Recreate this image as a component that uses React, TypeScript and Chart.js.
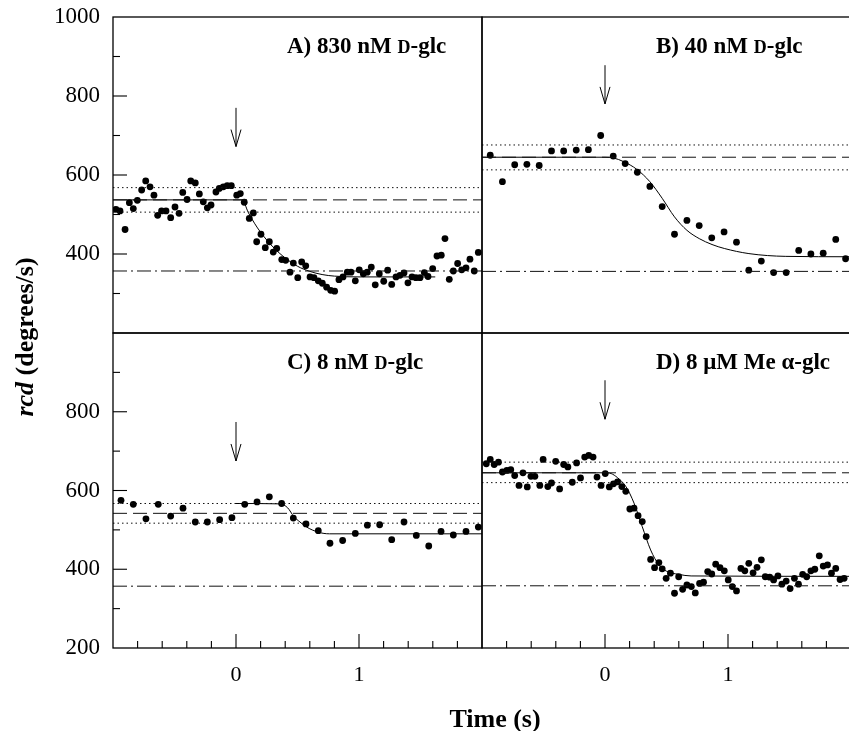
import React, { useEffect, useRef } from 'react';
import { Chart, registerables } from 'chart.js';

Chart.register(...registerables);

const FONT = "'Liberation Serif', 'Times New Roman', serif";
const M = 40; // canvas overhang on every side
const W = 849;
const H = 731;
const CW = W + 2 * M;
const CH = H + 2 * M;
const Y_AXIS_W = 100;
const X_AXIS_H = 60;

// ---------- Panel A: 830 nM D-glc ----------
const tA = [-0.976,-0.943,-0.902,-0.867,-0.835,-0.802,-0.767,-0.734,-0.699,-0.667,-0.637,-0.605,-0.569,-0.531,-0.496,-0.463,-0.433,-0.398,-0.368,-0.331,-0.298,-0.266,-0.233,-0.203,-0.163,-0.136,-0.103,-0.071,-0.038,0.006,0.035,0.067,0.108,0.141,0.168,0.203,0.238,0.271,0.303,0.331,0.372,0.404,0.439,0.466,0.502,0.534,0.567,0.602,0.634,0.669,0.702,0.737,0.770,0.802,0.837,0.870,0.905,0.935,0.970,1.002,1.035,1.067,1.100,1.132,1.165,1.201,1.233,1.266,1.301,1.333,1.366,1.398,1.431,1.463,1.496,1.531,1.561,1.599,1.634,1.669,1.699,1.734,1.767,1.802,1.835,1.870,1.902,1.937,1.970];
const vA = [513,509,462,530,515,536,562,585,570,549,498,509,509,492,519,503,556,538,585,580,552,532,517,524,557,566,570,573,573,549,553,531,490,504,431,450,416,431,405,414,386,384,354,377,340,380,370,342,340,332,326,316,308,306,335,342,354,354,332,360,350,354,367,322,350,331,359,323,342,346,352,327,342,340,340,353,343,363,395,397,439,336,357,376,360,365,387,357,404];
const fitAt = [-1, 0.05, 0.1, 0.15, 0.2, 0.3, 0.4, 0.5, 0.6, 0.7, 0.8, 1.0, 1.62];
const fitAv = [537, 537, 505, 478, 455, 418, 390, 369, 356, 348, 344, 342, 342];
const refA = [568, 537, 506, 357]; // upper dotted, dashed, lower dotted, dash-dot
const arrowA = [770, 672];

// ---------- Panel B: 40 nM D-glc ----------
const tB = [-0.933,-0.834,-0.734,-0.635,-0.535,-0.435,-0.336,-0.234,-0.135,-0.035,0.067,0.164,0.263,0.365,0.465,0.565,0.666,0.766,0.868,0.968,1.069,1.169,1.271,1.371,1.473,1.575,1.674,1.774,1.876,1.956];
const vB = [650,583,626,627,624,661,661,663,664,700,648,629,607,571,520,450,485,472,441,456,430,359,382,353,353,409,400,402,437,388];
const fitBt = [-1, 0, 0.07, 0.15, 0.26, 0.365, 0.465, 0.565, 0.666, 0.766, 0.87, 0.97, 1.17, 1.47, 2];
const fitBv = [645, 645, 643, 634, 614, 583, 541, 494, 460, 439, 424, 414, 401, 394, 393];
const refB = [676, 645, 613, 356];
const arrowB = [878, 780];

// ---------- Panel C: 8 nM D-glc ----------
const tC = [-0.935,-0.835,-0.732,-0.632,-0.531,-0.431,-0.331,-0.233,-0.133,-0.033,0.071,0.171,0.271,0.371,0.466,0.569,0.669,0.764,0.867,0.970,1.068,1.168,1.266,1.366,1.466,1.567,1.667,1.767,1.870,1.970];
const vC = [575,565,528,565,535,555,520,520,526,531,565,571,584,567,530,515,498,466,473,491,512,513,475,520,486,459,496,487,496,507];
const fitCt = [0, 0.36, 0.42, 0.47, 0.52, 0.57, 0.67, 0.76, 2];
const fitCv = [567, 566, 556, 534, 520, 508, 494, 490, 490];
const refC = [567, 542, 517, 357];
const arrowC = [774, 675];

// ---------- Panel D: 8 µM Me α-glc ----------
const tD = [-0.965,-0.933,-0.901,-0.866,-0.834,-0.798,-0.766,-0.734,-0.699,-0.667,-0.632,-0.602,-0.570,-0.530,-0.503,-0.465,-0.435,-0.401,-0.369,-0.336,-0.302,-0.266,-0.231,-0.199,-0.165,-0.132,-0.097,-0.065,-0.032,0.002,0.035,0.069,0.102,0.137,0.169,0.202,0.236,0.269,0.303,0.335,0.371,0.403,0.438,0.465,0.497,0.532,0.565,0.599,0.631,0.666,0.702,0.734,0.769,0.801,0.835,0.868,0.900,0.935,0.970,1.002,1.035,1.069,1.105,1.137,1.169,1.204,1.236,1.271,1.303,1.339,1.371,1.406,1.438,1.473,1.505,1.540,1.573,1.607,1.640,1.674,1.706,1.742,1.774,1.809,1.841,1.876,1.911,1.944];
const vD = [668,679,666,672,647,651,653,638,613,645,609,636,636,613,679,610,619,674,604,666,660,621,670,632,685,689,685,634,613,643,609,617,622,610,598,553,555,536,521,483,425,404,417,401,377,390,339,381,349,360,356,340,364,367,394,388,413,404,396,373,356,345,402,396,415,391,405,424,381,380,373,383,362,370,351,377,362,387,381,396,400,434,408,411,390,402,374,377];
const fitDt = [-1, 0, 0.05, 0.1, 0.17, 0.236, 0.303, 0.371, 0.438, 0.5, 0.6, 0.7, 2];
const fitDv = [645, 645, 643, 633, 610, 568, 508, 449, 411, 395, 387, 383, 382];
const refD = [672, 645, 620, 358];
const arrowD = [880, 781];

// ---------- axes ----------
const xRange = [-1, 2];
const yRange = [200, 1000];
const xLabelsShown = [0, 1];
const yLabelsTop = [400, 600, 800, 1000];
const yLabelsBottom = [200, 400, 600, 800];

const titleA = [{ s: 'A) 830 nM ', sc: false }, { s: 'D', sc: true }, { s: '-glc', sc: false }];
const titleB = [{ s: 'B) 40 nM ', sc: false }, { s: 'D', sc: true }, { s: '-glc', sc: false }];
const titleC = [{ s: 'C) 8 nM ', sc: false }, { s: 'D', sc: true }, { s: '-glc', sc: false }];
const titleD = [{ s: 'D) 8 \u03BCM Me \u03B1-glc', sc: false }];

type Panel = {
  id: string;
  t: number[]; v: number[]; ft: number[]; fv: number[];
  ref: number[]; arrow: number[];
  title: { s: string; sc: boolean }[];
  box: { left: number; top: number; right: number; bottom: number };
  yLabels: number[]; xLabels: number[];
  leftTicks: boolean; bottomTicks: boolean; axisTitles: boolean;
};

const panels: Panel[] = [
  { id: 'A', t: tA, v: vA, ft: fitAt, fv: fitAv, ref: refA, arrow: arrowA, title: titleA,
    box: { left: 113, top: 17, right: 482, bottom: 333 }, yLabels: yLabelsTop, xLabels: [],
    leftTicks: true, bottomTicks: false, axisTitles: true },
  { id: 'B', t: tB, v: vB, ft: fitBt, fv: fitBv, ref: refB, arrow: arrowB, title: titleB,
    box: { left: 482, top: 17, right: 851, bottom: 333 }, yLabels: [], xLabels: [],
    leftTicks: false, bottomTicks: false, axisTitles: false },
  { id: 'C', t: tC, v: vC, ft: fitCt, fv: fitCv, ref: refC, arrow: arrowC, title: titleC,
    box: { left: 113, top: 333, right: 482, bottom: 648 }, yLabels: yLabelsBottom, xLabels: xLabelsShown,
    leftTicks: true, bottomTicks: true, axisTitles: false },
  { id: 'D', t: tD, v: vD, ft: fitDt, fv: fitDv, ref: refD, arrow: arrowD, title: titleD,
    box: { left: 482, top: 333, right: 851, bottom: 648 }, yLabels: [], xLabels: xLabelsShown,
    leftTicks: false, bottomTicks: true, axisTitles: false },
];

const near = (a: number, b: number) => Math.abs(a - b) < 1e-6;

function makeDeco(p: Panel) {
  return {
    id: 'deco' + p.id,
    afterDatasetsDraw(chart: any) {
      const { ctx, chartArea: ca } = chart;
      const xs = chart.scales.x;
      const ys = chart.scales.y;
      ctx.save();
      ctx.strokeStyle = '#000';
      ctx.fillStyle = '#000';
      // frame
      ctx.lineWidth = 1.3;
      ctx.strokeRect(ca.left, ca.top, ca.right - ca.left, ca.bottom - ca.top);
      // inward ticks
      ctx.lineWidth = 1.1;
      if (p.leftTicks) {
        ys.ticks.forEach((tk: any) => {
          if (tk.value <= ys.min || tk.value >= ys.max) return;
          const py = ys.getPixelForValue(tk.value);
          const len = Math.round(tk.value) % 200 === 0 ? 14 : 7;
          ctx.beginPath();
          ctx.moveTo(ca.left, py);
          ctx.lineTo(ca.left + len, py);
          ctx.stroke();
        });
      }
      if (p.bottomTicks) {
        xs.ticks.forEach((tk: any) => {
          if (tk.value <= xs.min + 1e-6 || tk.value >= xs.max - 1e-6) return;
          const px = xs.getPixelForValue(tk.value);
          const len = near(tk.value, Math.round(tk.value)) ? 14 : 7;
          ctx.beginPath();
          ctx.moveTo(px, ca.bottom);
          ctx.lineTo(px, ca.bottom - len);
          ctx.stroke();
        });
      }
      // arrow at t = 0
      ctx.lineWidth = 1;
      const ax = xs.getPixelForValue(0);
      const y1 = ys.getPixelForValue(p.arrow[0]);
      const y2 = ys.getPixelForValue(p.arrow[1]);
      ctx.beginPath();
      ctx.moveTo(ax, y1);
      ctx.lineTo(ax, y2);
      ctx.moveTo(ax - 5, y2 - 17);
      ctx.lineTo(ax, y2);
      ctx.lineTo(ax + 5, y2 - 17);
      ctx.stroke();
      // panel title
      ctx.textBaseline = 'alphabetic';
      ctx.textAlign = 'left';
      let tx = ca.left + 174;
      const ty = ca.top + 36;
      p.title.forEach((part) => {
        ctx.font = `bold ${part.sc ? 18 : 23}px ${FONT}`;
        ctx.fillText(part.s, tx, ty);
        tx += ctx.measureText(part.s).width;
      });
      // shared axis titles
      if (p.axisTitles) {
        ctx.save();
        ctx.translate(33 + M, 337 + M);
        ctx.rotate(-Math.PI / 2);
        const f1 = `italic bold 26px ${FONT}`;
        const f2 = `bold 26px ${FONT}`;
        const s1 = 'rcd';
        const s2 = ' (degrees/s)';
        ctx.font = f1;
        const w1 = ctx.measureText(s1).width;
        ctx.font = f2;
        const w2 = ctx.measureText(s2).width;
        let sx = -(w1 + w2) / 2;
        ctx.font = f1;
        ctx.fillText(s1, sx, 0);
        sx += w1;
        ctx.font = f2;
        ctx.fillText(s2, sx, 0);
        ctx.restore();
        ctx.font = `bold 26px ${FONT}`;
        ctx.textAlign = 'center';
        ctx.fillText('Time (s)', 495 + M, 727 + M);
      }
      ctx.restore();
    },
  };
}

function hLine(level: number, dash: number[]) {
  return {
    data: [{ x: xRange[0], y: level }, { x: xRange[1], y: level }],
    showLine: true,
    pointRadius: 0,
    borderColor: '#111',
    borderWidth: 1,
    borderDash: dash,
  };
}

function buildConfig(p: Panel): any {
  const pts = p.t.map((t, i) => ({ x: t, y: p.v[i] }));
  const fit = p.ft.map((t, i) => ({ x: t, y: p.fv[i] }));
  return {
    type: 'scatter',
    data: {
      datasets: [
        hLine(p.ref[0], [1.5, 3]),
        hLine(p.ref[2], [1.5, 3]),
        hLine(p.ref[1], [14, 6]),
        hLine(p.ref[3], [14, 4, 2, 4]),
        {
          data: fit,
          showLine: true,
          pointRadius: 0,
          borderColor: '#000',
          borderWidth: 1,
          cubicInterpolationMode: 'monotone',
        },
        {
          data: pts,
          showLine: false,
          pointRadius: 3.4,
          pointBackgroundColor: '#000',
          pointBorderWidth: 0,
          backgroundColor: '#000',
        },
      ],
    },
    options: {
      responsive: false,
      maintainAspectRatio: false,
      animation: false,
      devicePixelRatio: 1,
      events: [],
      layout: {
        padding: {
          left: p.box.left + M - Y_AXIS_W,
          top: p.box.top + M,
          right: CW - (p.box.right + M),
          bottom: CH - (p.box.bottom + M) - X_AXIS_H,
        },
      },
      plugins: { legend: { display: false }, tooltip: { enabled: false }, title: { display: false } },
      scales: {
        x: {
          type: 'linear',
          min: xRange[0],
          max: xRange[1],
          grid: { display: false, drawTicks: false },
          border: { display: false },
          afterFit: (s: any) => { s.height = X_AXIS_H; },
          ticks: {
            display: p.xLabels.length > 0,
            stepSize: 0.2,
            autoSkip: false,
            maxRotation: 0,
            minRotation: 0,
            padding: 14,
            color: '#000',
            font: { family: FONT, size: 22 },
            callback: (val: number) => (p.xLabels.some((l) => near(l, val)) ? String(Math.round(val)) : ''),
          },
        },
        y: {
          type: 'linear',
          min: yRange[0],
          max: yRange[1],
          grid: { display: false, drawTicks: false },
          border: { display: false },
          afterFit: (s: any) => { s.width = Y_AXIS_W; },
          ticks: {
            display: p.yLabels.length > 0,
            stepSize: 100,
            autoSkip: false,
            padding: 13,
            color: '#000',
            font: { family: FONT, size: 23 },
            callback: (val: number) => (p.yLabels.some((l) => near(l, val)) ? String(val) : ''),
          },
        },
      },
    },
    plugins: [makeDeco(p)],
  };
}

function PanelCanvas({ p }: { p: Panel }) {
  const ref = useRef<HTMLCanvasElement | null>(null);
  useEffect(() => {
    if (!ref.current) return;
    const chart = new Chart(ref.current, buildConfig(p));
    return () => chart.destroy();
  }, [p]);
  return (
    <canvas
      ref={ref}
      width={CW}
      height={CH}
      style={{ position: 'absolute', left: -M, top: -M, width: CW, height: CH }}
    />
  );
}

export default function App() {
  return (
    <div
      style={{
        position: 'absolute',
        left: 0,
        top: 0,
        width: W,
        height: H,
        overflow: 'hidden',
        background: '#fff',
      }}
    >
      {panels.map((p) => (
        <PanelCanvas key={p.id} p={p} />
      ))}
    </div>
  );
}
